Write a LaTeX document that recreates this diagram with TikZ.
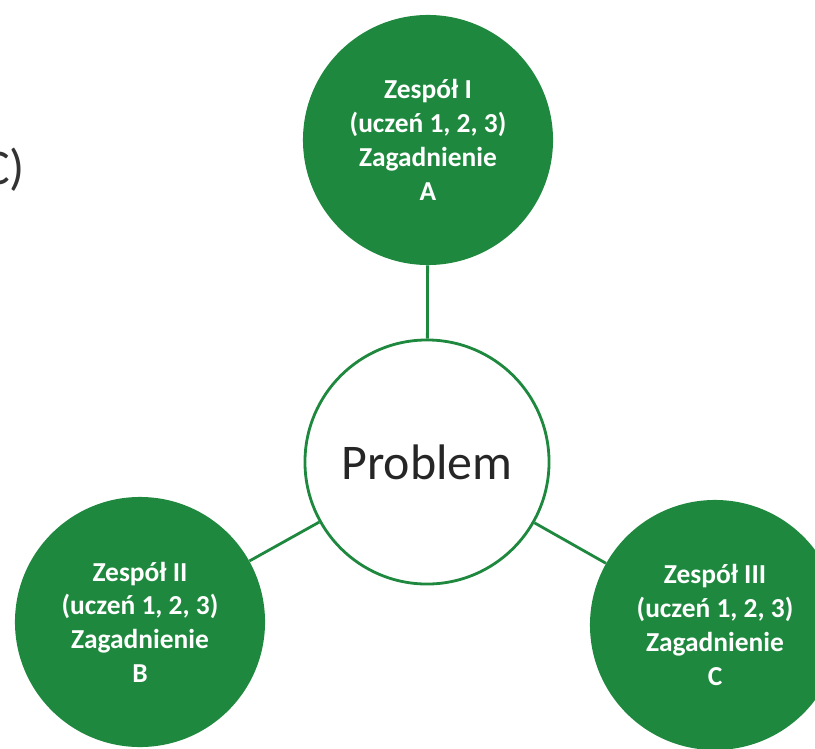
\documentclass[tikz,border=0pt]{standalone}
\usepackage{fontspec}
\setmainfont{Carlito}
\definecolor{teamgreen}{RGB}{30,137,62}
\begin{document}
\begin{tikzpicture}[x=0.025cm, y=-0.025cm,
  team/.style={circle, fill=teamgreen, text=white, minimum size=6.25cm,
    inner sep=0pt, align=center, font=\fontsize{19.5}{24}\selectfont\bfseries},
  hub/.style={circle, draw=teamgreen, line width=2pt, fill=white,
    minimum size=6.1cm, inner sep=0pt, text=black!85,
    font=\fontsize{35.5}{42}\selectfont},
  link/.style={draw=teamgreen, line width=2pt}]
  \useasboundingbox (0,0) rectangle (815,749);
  \clip (0,0) rectangle (815,749);
  \node[anchor=base east, text=black!80, font=\fontsize{35.5}{42}\selectfont]
    (cut) at (30,184) {C)};
  \node[hub] (problem) at (427,462) {Problem};
  \node[team] (teamA) at (428,140) {Zespół I\\(uczeń 1, 2, 3)\\Zagadnienie\\A};
  \node[team] (teamB) at (140,622) {Zespół II\\(uczeń 1, 2, 3)\\Zagadnienie\\B};
  \node[team] (teamC) at (715,625) {Zespół III\\(uczeń 1, 2, 3)\\Zagadnienie\\C};
  \draw[link] (problem) -- (teamA);
  \draw[link] (problem) -- (teamB);
  \draw[link] (problem) -- (teamC);
\end{tikzpicture}
\end{document}
